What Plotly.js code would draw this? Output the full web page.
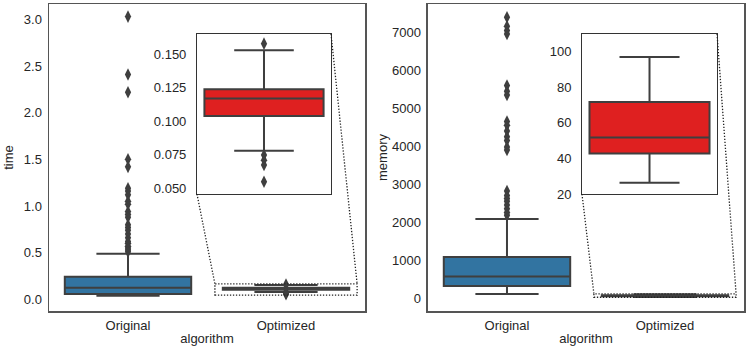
<!DOCTYPE html>
<html>
<head>
<meta charset="utf-8">
<script src="https://cdn.plot.ly/plotly-3.0.1.min.js"></script>
<style>
	html, body { margin: 0; padding: 0; background: #fff; }
	#chart { width: 748px; height: 352px; }
</style>
</head>
<body>
<div id="chart"></div>
<script>
(function () {

	'use strict';

	// categories on both x axes
	const categories = [ 'Original', 'Optimized' ];

	// time: box stats [Original, Optimized]
	const timeQ1 = [ 0.057, 0.104 ];
	const timeMedian = [ 0.124, 0.117 ];
	const timeQ3 = [ 0.242, 0.124 ];
	const timeLowerFence = [ 0.039, 0.078 ];
	const timeUpperFence = [ 0.489, 0.153 ];
	const timeOutliersOriginal = [ 3.03, 2.41, 2.22, 1.50, 1.42, 1.19, 1.16, 1.12, 1.05, 1.02,
		0.94, 0.91, 0.88, 0.80, 0.77, 0.74, 0.70, 0.66, 0.62, 0.60, 0.57, 0.55, 0.53, 0.51 ];
	const timeOutliersOptimized = [ 0.158, 0.0748, 0.071, 0.0674, 0.0549 ];

	// memory: box stats [Original, Optimized]
	const memQ1 = [ 317, 42.8 ];
	const memMedian = [ 565, 51.8 ];
	const memQ3 = [ 1082, 71.8 ];
	const memLowerFence = [ 105, 26.4 ];
	const memUpperFence = [ 2085, 97 ];
	const memOutliersOriginal = [ 7400, 7160, 7050, 6960, 5600, 5450, 5350, 4650, 4550, 4400,
		4250, 4150, 3980, 3900, 2820, 2700, 2620, 2550, 2450, 2350, 2250, 2180 ];
	const memOutliersOptimized = [];

	// tick labels
	const timeTicks = [ 0, 0.5, 1, 1.5, 2, 2.5, 3 ];
	const timeInsetTicks = [ 0.05, 0.075, 0.1, 0.125, 0.15 ];
	const memTicks = [ 0, 1000, 2000, 3000, 4000, 5000, 6000, 7000 ];
	const memInsetTicks = [ 20, 40, 60, 80, 100 ];

	// axis ranges
	const catRange = [ -0.5, 1.5 ];
	const insetXRange = [ 0.55, 1.45 ];
	const timeRange = [ -0.125, 3.165 ];
	const timeInsetRange = [ 0.0457, 0.1652 ];
	const memRange = [ -343, 7749 ];
	const memInsetRange = [ 20, 110 ];

	/**
	* Styles
	*/
	const boxColors = [ '#3274a1', '#df2020' ];
	const lineGray = '#3f3f3f';
	const textColor = '#262626';
	const font = { family: '"Liberation Sans", Arial, sans-serif', size: 13, color: textColor };

	// domains (paper coords)
	const leftDomain = [ 0, 0.4547 ];
	const rightDomain = [ 0.5453, 1 ];
	const yDomain = [ 0, 1 ];
	const insetY = [ 0.381, 0.9023 ];
	const leftInsetX = [ 0.2129, 0.4058 ];
	const rightInsetX = [ 0.7669, 0.9612 ];

	/**
	* Box trace from precomputed stats
	*/
	const boxTrace = ( i, stats, xa, ya ) => ({
		type: 'box',
		x: [ categories[i] ],
		q1: [ stats.q1[i] ],
		median: [ stats.median[i] ],
		q3: [ stats.q3[i] ],
		lowerfence: [ stats.low[i] ],
		upperfence: [ stats.high[i] ],
		boxpoints: false,
		width: 0.8,
		whiskerwidth: 0.5,
		fillcolor: boxColors[i],
		line: { color: lineGray, width: 2 },
		xaxis: xa,
		yaxis: ya,
		showlegend: false,
		hoverinfo: 'skip',
	});

	const outlierTrace = ( i, vals, xa, ya ) => ({
		type: 'scatter',
		mode: 'markers',
		x: vals.map(() => categories[i]),
		y: vals,
		marker: { symbol: 'diamond-tall', size: 9, color: lineGray },
		xaxis: xa,
		yaxis: ya,
		showlegend: false,
		cliponaxis: false,
		hoverinfo: 'skip',
	});

	const timeStats = { q1: timeQ1, median: timeMedian, q3: timeQ3, low: timeLowerFence, high: timeUpperFence };
	const memStats = { q1: memQ1, median: memMedian, q3: memQ3, low: memLowerFence, high: memUpperFence };

	const data = [
		// time - main
		boxTrace( 0, timeStats, 'x', 'y' ),
		boxTrace( 1, timeStats, 'x', 'y' ),
		outlierTrace( 0, timeOutliersOriginal, 'x', 'y' ),
		outlierTrace( 1, timeOutliersOptimized, 'x', 'y' ),
		// memory - main
		boxTrace( 0, memStats, 'x2', 'y2' ),
		boxTrace( 1, memStats, 'x2', 'y2' ),
		outlierTrace( 0, memOutliersOriginal, 'x2', 'y2' ),
		outlierTrace( 1, memOutliersOptimized, 'x2', 'y2' ),
		// time - inset
		boxTrace( 1, timeStats, 'x3', 'y3' ),
		outlierTrace( 1, timeOutliersOptimized, 'x3', 'y3' ),
		// memory - inset
		boxTrace( 1, memStats, 'x4', 'y4' ),
		outlierTrace( 1, memOutliersOptimized, 'x4', 'y4' ),
	];

	/**
	* Axis templates
	*/
	const mainX = ( domain, anchor ) => ({
		domain: domain,
		anchor: anchor,
		type: 'category',
		categoryorder: 'array',
		categoryarray: categories,
		range: catRange,
		showline: true, mirror: true, linecolor: '#555', linewidth: 1.5,
		showgrid: false, zeroline: false,
		ticks: 'outside', ticklen: 2, tickcolor: 'rgba(0,0,0,0)',
		tickfont: font,
		title: { text: 'algorithm', font: font, standoff: 2 },
		fixedrange: true,
	});

	const mainY = ( anchor, range, ticks, fmt, title ) => ({
		domain: yDomain,
		anchor: anchor,
		range: range,
		tickvals: ticks,
		tickformat: fmt,
		showline: true, mirror: true, linecolor: '#555', linewidth: 1.5,
		showgrid: false, zeroline: false,
		ticks: 'outside', ticklen: 3, tickcolor: 'rgba(0,0,0,0)',
		tickfont: font,
		title: { text: title, font: font },
		fixedrange: true,
	});

	const insetXAxis = ( domain, anchor ) => ({
		domain: domain,
		anchor: anchor,
		type: 'category',
		categoryorder: 'array',
		categoryarray: categories,
		range: insetXRange,
		showline: true, mirror: true, linecolor: '#333', linewidth: 1,
		showgrid: false, zeroline: false,
		showticklabels: false, ticks: '',
		fixedrange: true,
	});

	const insetYAxis = ( anchor, range, ticks, fmt ) => ({
		domain: insetY,
		anchor: anchor,
		range: range,
		tickvals: ticks,
		tickformat: fmt,
		showline: true, mirror: true, linecolor: '#333', linewidth: 1,
		showgrid: false, zeroline: false,
		ticks: 'outside', ticklen: 7, tickcolor: 'rgba(0,0,0,0)',
		tickfont: font,
		fixedrange: true,
	});

	/**
	* Zoom rectangle + connector lines (mark_inset style)
	*/
	const toPaper = ( v, range, domain ) =>
		domain[0] + ( v - range[0] ) / ( range[1] - range[0] ) * ( domain[1] - domain[0] );

	const dotted = { color: '#222', width: 1.3, dash: '1.3px,1.7px' };

	const insetMarks = ( xa, ya, mainDomain, mainRange, insetRange, insetXDomain ) => {
		const rx0 = toPaper( insetXRange[0], catRange, mainDomain );
		const rx1 = toPaper( insetXRange[1], catRange, mainDomain );
		const ryTop = toPaper( insetRange[1], mainRange, yDomain );
		return [
			{ type: 'rect', xref: xa, yref: ya, x0: insetXRange[0], x1: insetXRange[1],
				y0: insetRange[0], y1: insetRange[1], line: dotted, layer: 'above' },
			{ type: 'line', xref: 'paper', yref: 'paper', x0: insetXDomain[0], y0: insetY[0],
				x1: rx0, y1: ryTop, line: dotted },
			{ type: 'line', xref: 'paper', yref: 'paper', x0: insetXDomain[1], y0: insetY[1],
				x1: rx1, y1: ryTop, line: dotted },
		];
	};

	const layout = {
		width: 748,
		height: 352,
		margin: { l: 49, r: 4, t: 4, b: 41 },
		paper_bgcolor: '#fff',
		plot_bgcolor: '#fff',
		font: font,
		showlegend: false,
		xaxis: mainX( leftDomain, 'y' ),
		yaxis: mainY( 'x', timeRange, timeTicks, '.1f', 'time' ),
		xaxis2: mainX( rightDomain, 'y2' ),
		yaxis2: mainY( 'x2', memRange, memTicks, 'd', 'memory' ),
		xaxis3: insetXAxis( leftInsetX, 'y3' ),
		yaxis3: insetYAxis( 'x3', timeInsetRange, timeInsetTicks, '.3f' ),
		xaxis4: insetXAxis( rightInsetX, 'y4' ),
		yaxis4: insetYAxis( 'x4', memInsetRange, memInsetTicks, 'd' ),
		shapes: []
			.concat( insetMarks( 'x', 'y', leftDomain, timeRange, timeInsetRange, leftInsetX ) )
			.concat( insetMarks( 'x2', 'y2', rightDomain, memRange, memInsetRange, rightInsetX ) ),
	};

	Plotly.newPlot(
		document.getElementById('chart'),
		data,
		layout,
		{ displayModeBar: false, responsive: false, staticPlot: true }
	);

})();
</script>
</body>
</html>
